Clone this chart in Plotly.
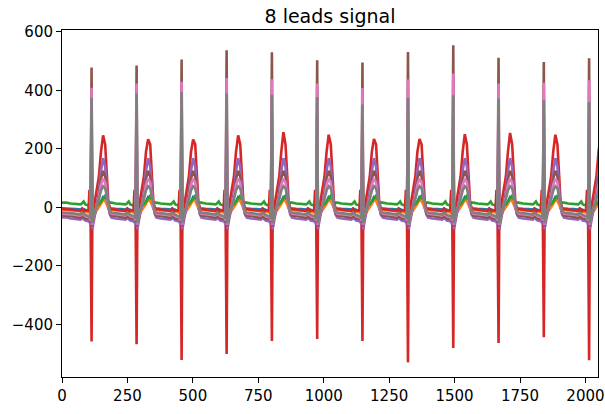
import plotly.graph_objects as go

# R-peak sample positions of each beat
beats = [113, 285, 457, 629, 802, 975, 1148, 1322, 1495, 1668, 1841, 2014]

# per-beat peak values
brown_R = [478, 485, 505, 537, 530, 503, 495, 531, 554, 511, 497, 509]
pink_R = [409, 423, 429, 442, 438, 423, 408, 437, 457, 423, 426, 434]
gray_R = [374, 389, 394, 389, 385, 377, 351, 374, 383, 372, 366, 360]
red_S = [-459, -468, -522, -501, -457, -450, -457, -530, -481, -464, -444, -523]
red_T = [246, 233, 232, 246, 257, 248, 234, 234, 250, 254, 248, 240]

# beat shape: sample offsets from the R peak and the value of each lead there
offsets = [-96, -80, -60, -42, -36, -30, -24, -12, -8, -4, 0, 3, 6, 12, 20, 28, 36, 44, 52, 58, 64, 70, 75]
blue = [-3, -5, -6, -8, -4, -6, -10, -12, -15, -25, 250, -40, -30, -15, -5, 5, 20, 35, 30, 15, 2, -3, -3]
orange = [-8, -10, -12, -14, -10, -12, -16, -18, -20, -30, 200, -45, -35, -20, -10, 0, 12, 25, 22, 10, -4, -8, -8]
green = [16, 13, 12, 10, 14, 20, 10, 8, 5, -5, 60, -15, -5, 0, 5, 10, 20, 30, 40, 30, 18, 16, 16]
red = [-6, -8, -10, -12, -5, -15, -10, -12, 60, -15, None, -30, -15, 15, 60, 105, 190, None, 215, 110, 20, -2, -6]
purple = [-35, -38, -40, -42, -36, -40, -45, -48, -50, -60, 320, -75, -55, -30, 5, 55, 125, 168, 140, 70, 5, -25, -35]
brown = [-28, -30, -33, -36, -30, -34, -38, -40, -42, -50, None, -65, -45, -25, 5, 45, 98, 125, 105, 55, 0, -20, -28]
pink = [-22, -24, -26, -28, -22, -26, -30, -34, -36, -45, None, -60, -40, -20, 5, 35, 78, 98, 85, 45, 0, -15, -22]
gray = [-18, -20, -22, -25, -18, -22, -26, -30, -32, -40, None, -55, -35, -15, 5, 28, 58, 72, 65, 40, 5, -12, -18]

colors = ["#1f77b4", "#ff7f0e", "#2ca02c", "#d62728", "#9467bd", "#8c564b", "#e377c2", "#7f7f7f"]

R_IDX = offsets.index(0)
T_IDX = offsets.index(44)


def build(template, per_beat=None):
    xs, ys = [0], [template[0]]
    for b, r in enumerate(beats):
        for i, off in enumerate(offsets):
            v = template[i]
            if per_beat:
                for idx, arr in per_beat:
                    if i == idx:
                        v = arr[b]
            xs.append(r + off)
            ys.append(v)
    return xs, ys


leads = [
    build(blue),
    build(orange),
    build(green),
    build(red, [(R_IDX, red_S), (T_IDX, red_T)]),
    build(purple),
    build(brown, [(R_IDX, brown_R)]),
    build(pink, [(R_IDX, pink_R)]),
    build(gray, [(R_IDX, gray_R)]),
]

fig = go.Figure()
for (xs, ys), c in zip(leads, colors):
    fig.add_trace(go.Scatter(x=xs, y=ys, mode="lines", line=dict(color=c, width=2.6),
                             showlegend=False, hoverinfo="skip"))

font = "DejaVu Sans, sans-serif"
axis_common = dict(showline=True, mirror=True, linecolor="black", linewidth=1,
                   ticks="outside", ticklen=5, tickwidth=1, tickcolor="black",
                   showgrid=False, zeroline=False, automargin=False,
                   tickfont=dict(family=font, size=15, color="black"))

W, H = 605, 414
fig.update_layout(
    width=W, height=H,
    margin=dict(l=62, r=7, t=30, b=36.5, autoexpand=False),
    paper_bgcolor="white", plot_bgcolor="white",
    title=dict(text="8 leads signal", x=330 / W, xanchor="center", y=1 - 16 / H,
               yanchor="middle", font=dict(family=font, size=19, color="black")),
    xaxis=dict(range=[0, 2048], tickvals=[0, 250, 500, 750, 1000, 1250, 1500, 1750, 2000],
               **axis_common),
    yaxis=dict(range=[-580, 606], tickvals=[-400, -200, 0, 200, 400, 600], **axis_common),
)

# remove the browser's default page margin so the figure sits at the window corner
fig.write_html("out.html", config={"displayModeBar": False},
               post_script="document.body.style.margin='0';")
